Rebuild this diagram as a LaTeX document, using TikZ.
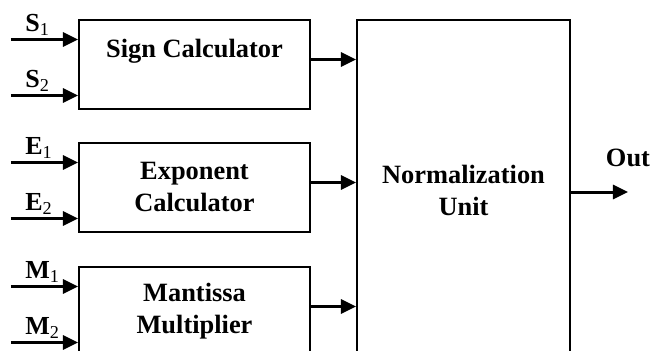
\documentclass[tikz,border=0pt]{standalone}
\usepackage{fontspec}
\setmainfont{Liberation Serif}
\usepackage{tikz}
\usetikzlibrary{
  arrows.meta,
  positioning
}

\begin{document}
\begin{tikzpicture}[
  unitbox/.style={rectangle, draw=black, line width=1pt, minimum width=115.5pt, minimum height=44.5pt, font=\bfseries\fontsize{13.2}{16}\selectfont, align=center, inner sep=0pt},
  normbox/.style={unitbox, minimum width=106.5pt, minimum height=170pt},
  inlbl/.style={inner sep=0pt, font=\fontsize{13}{15}\selectfont},
  outlbl/.style={inner sep=0pt, font=\bfseries\fontsize{13.2}{16}\selectfont},
  arr/.style={-{Triangle[length=7.5pt, width=7pt]}, line width=1.5pt, black},
]
\useasboundingbox (0,0) rectangle (330.5pt,-175pt);
\clip (0,0) rectangle (330.5pt,-175pt);

\node[unitbox] (sign) at (97.25pt,-32.25pt) {Sign Calculator\\~};
\node[unitbox, below=16pt of sign] (exp) {Exponent\\Calculator};
\node[unitbox, below=16.5pt of exp] (man) {Mantissa\\Multiplier};
\node[normbox, below right=0pt and 22.5pt of sign.north east] (norm) {Normalization\\Unit};

% inputs
\coordinate (s1) at ([xshift=-33.5pt, yshift=12.5pt]sign.west);
\coordinate (s2) at ([xshift=-33.5pt, yshift=-15.5pt]sign.west);
\coordinate (e1) at ([xshift=-33.5pt, yshift=12.5pt]exp.west);
\coordinate (e2) at ([xshift=-33.5pt, yshift=-15.5pt]exp.west);
\coordinate (m1) at ([xshift=-33.5pt, yshift=12.5pt]man.west);
\coordinate (m2) at ([xshift=-33.5pt, yshift=-15.5pt]man.west);

\node[inlbl, above right=2pt and 7pt of s1] (s1lbl) {\textbf{S}\textsubscript{1}};
\node[inlbl, above right=2pt and 7pt of s2] (s2lbl) {\textbf{S}\textsubscript{2}};
\node[inlbl, above right=2pt and 7pt of e1] (e1lbl) {\textbf{E}\textsubscript{1}};
\node[inlbl, above right=2pt and 7pt of e2] (e2lbl) {\textbf{E}\textsubscript{2}};
\node[inlbl, above right=2pt and 7pt of m1] (m1lbl) {\textbf{M}\textsubscript{1}};
\node[inlbl, above right=2pt and 7pt of m2] (m2lbl) {\textbf{M}\textsubscript{2}};

\draw[arr] (s1) -- (s1 -| sign.west);
\draw[arr] (s2) -- (s2 -| sign.west);
\draw[arr] (e1) -- (e1 -| exp.west);
\draw[arr] (e2) -- (e2 -| exp.west);
\draw[arr] (m1) -- (m1 -| man.west);
\draw[arr] (m2) -- (m2 -| man.west);

% into normalization
\draw[arr] ([yshift=2.5pt]sign.east) -- ([yshift=2.5pt]sign.east -| norm.west);
\draw[arr] ([yshift=2.5pt]exp.east) -- ([yshift=2.5pt]exp.east -| norm.west);
\draw[arr] ([yshift=2.5pt]man.east) -- ([yshift=2.5pt]man.east -| norm.west);

% output
\coordinate (out) at ([xshift=28.5pt, yshift=-1pt]norm.east);
\node[outlbl, above=12.5pt of out] (outlbl) {Out};
\draw[arr] ([yshift=-1pt]norm.east) -- (out);

\end{tikzpicture}
\end{document}
